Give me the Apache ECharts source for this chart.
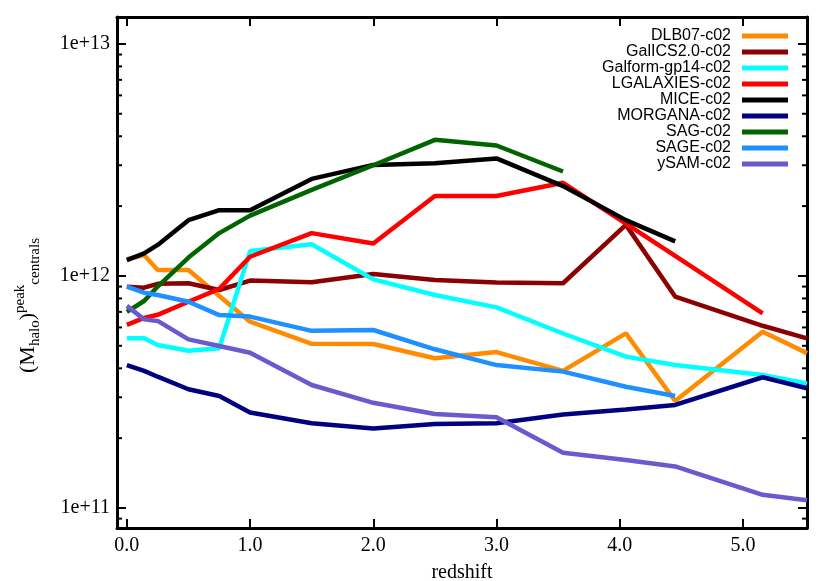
<!DOCTYPE html>
<html>
<head>
<meta charset="utf-8">
<script src="https://cdn.jsdelivr.net/npm/echarts@6/dist/echarts.min.js"></script>
<style>
  html, body { margin: 0; padding: 0; background: #fff; }
  #chart { width: 830px; height: 581px; }
</style>
</head>
<body>
<div id="chart"></div>
<script>
// redshift snapshots shared by all models
const redshift = [0, 0.14, 0.25, 0.5, 0.75, 1.0, 1.5, 2.0, 2.5, 3.0, 3.54, 4.05, 4.45, 5.16, 5.52];

const names = ["DLB07-c02", "GalICS2.0-c02", "Galform-gp14-c02", "LGALAXIES-c02", "MICE-c02",
  "MORGANA-c02", "SAG-c02", "SAGE-c02", "ySAM-c02"];
const colors = ["#ff8c00", "#8b0000", "#00ffff", "#ff0000", "#000000",
  "#000080", "#006400", "#1e90ff", "#6a5acd"];

// peak halo mass of centrals, null = no point
const dlb07 = [1.18e12, 1.23e12, 1.06e12, 1.06e12, 8.2e11, 6.35e11, 5.1e11, 5.09e11, 4.42e11, 4.7e11, 3.9e11, 5.66e11, 2.89e11, 5.75e11, 4.65e11];
const galics = [8.99e11, 8.9e11, 9.25e11, 9.3e11, 8.7e11, 9.55e11, 9.4e11, 1.02e12, 9.6e11, 9.36e11, 9.3e11, 1.66e12, 8.15e11, 6.1e11, 5.38e11];
const galform = [5.39e11, 5.39e11, 5.04e11, 4.76e11, 4.88e11, 1.28e12, 1.37e12, 9.67e11, 8.28e11, 7.32e11, 5.65e11, 4.49e11, 4.13e11, 3.74e11, 3.44e11];
const lgalaxies = [6.15e11, 6.6e11, 6.8e11, 7.74e11, 8.8e11, 1.21e12, 1.53e12, 1.38e12, 2.21e12, 2.21e12, 2.52e12, 1.68e12, 1.22e12, 6.9e11, null];
const mice = [1.17e12, 1.25e12, 1.36e12, 1.74e12, 1.92e12, 1.92e12, 2.62e12, 3.01e12, 3.06e12, 3.21e12, 2.44e12, 1.74e12, 1.41e12, null, null];
const morgana = [4.13e11, 3.9e11, 3.68e11, 3.25e11, 3.04e11, 2.58e11, 2.32e11, 2.2e11, 2.3e11, 2.32e11, 2.53e11, 2.66e11, 2.78e11, 3.66e11, 3.28e11];
const sag = [7.0e11, 7.8e11, 9.0e11, 1.2e12, 1.53e12, 1.82e12, 2.35e12, 3.0e12, 3.86e12, 3.65e12, 2.82e12, null, null, null, null];
const sage = [9.0e11, 8.47e11, 8.28e11, 7.74e11, 6.78e11, 6.68e11, 5.8e11, 5.85e11, 4.83e11, 4.13e11, 3.87e11, 3.33e11, 3.04e11, null, null];
const ysam = [7.43e11, 6.5e11, 6.4e11, 5.33e11, 4.99e11, 4.67e11, 3.39e11, 2.84e11, 2.54e11, 2.46e11, 1.73e11, 1.61e11, 1.51e11, 1.14e11, 1.08e11];

const xTicks = [0, 1, 2, 3, 4, 5];
const yTicks = [1e11, 1e12, 1e13];
const yMinorTicks = [9e10, 2e11, 3e11, 4e11, 5e11, 6e11, 7e11, 8e11, 9e11,
  2e12, 3e12, 4e12, 5e12, 6e12, 7e12, 8e12, 9e12];

const allValues = [dlb07, galics, galform, lgalaxies, mice, morgana, sag, sage, ysam];

const serif = "Liberation Serif";
const xMin = -0.08, xMax = 5.52;
const yMin = 8.2e10, yMax = 1.306e13;

let chart = echarts.init(document.getElementById("chart"));

const lineSeries = names.map((name, i) => ({
  name: name,
  type: "line",
  data: redshift.map((z, k) => [z, allValues[i][k]]).filter(p => p[1] != null),
  showSymbol: false,
  symbol: "none",
  color: colors[i],
  lineStyle: { width: 4.5, color: colors[i] },
  itemStyle: { color: colors[i] },
}));

// minor ticks on left and right axis (log spacing)
const minorSeries = {
  type: "custom",
  name: "minor",
  coordinateSystem: "cartesian2d",
  silent: true,
  clip: false,
  data: yMinorTicks.map(v => [0, v]),
  renderItem: function (params, api) {
    const cs = params.coordSys;
    const y = api.coord([0, api.value(1)])[1];
    return {
      type: "group",
      children: [
        { type: "line", shape: { x1: cs.x, y1: y, x2: cs.x + 5, y2: y }, style: { stroke: "#000", lineWidth: 2 } },
        { type: "line", shape: { x1: cs.x + cs.width, y1: y, x2: cs.x + cs.width - 5, y2: y }, style: { stroke: "#000", lineWidth: 2 } },
      ],
    };
  },
};

const frameLine = { show: true, onZero: false, lineStyle: { color: "#000", width: 3 } };
const majorTick = { show: true, inside: true, length: 9, lineStyle: { color: "#000", width: 2 } };

chart.setOption({
  animation: false,
  backgroundColor: "#fff",
  grid: { left: 117, right: 23, top: 17, bottom: 53, containLabel: false, outerBoundsMode: "none" },
  legend: {
    data: names,
    orient: "vertical",
    right: 37,
    top: 23,
    align: "right",
    icon: "rect",
    itemWidth: 46,
    itemHeight: 5,
    itemGap: 0,
    textStyle: { fontFamily: "Liberation Sans", fontSize: 16, color: "#000", lineHeight: 16, padding: [0, 6, 0, 0] },
  },
  xAxis: [
    {
      type: "value", min: xMin, max: xMax, position: "bottom",
      axisLine: frameLine,
      axisTick: Object.assign({ customValues: xTicks }, majorTick),
      axisLabel: {
        customValues: xTicks, formatter: v => v.toFixed(1),
        fontFamily: serif, fontSize: 20, color: "#000", margin: 8,
      },
      splitLine: { show: false },
      name: "redshift", nameLocation: "middle", nameGap: 35,
      nameTextStyle: { fontFamily: serif, fontSize: 20, color: "#000" },
    },
    {
      type: "value", min: xMin, max: xMax, position: "top",
      axisLine: frameLine,
      axisTick: Object.assign({ customValues: xTicks }, majorTick),
      axisLabel: { show: false },
      splitLine: { show: false },
    },
  ],
  yAxis: [
    {
      type: "log", logBase: 10, min: yMin, max: yMax, position: "left",
      axisLine: frameLine,
      axisTick: Object.assign({ customValues: yTicks }, majorTick),
      axisLabel: {
        customValues: yTicks, formatter: v => "1e+" + Math.round(Math.log10(v)),
        fontFamily: serif, fontSize: 20, color: "#000", margin: 7,
      },
      splitLine: { show: false },
      minorTick: { show: false },
      name: "{n|(M}{sub|halo}{n|)}{sup|peak}{sub|centrals}{gap| }",
      nameLocation: "middle", nameRotate: 90, nameGap: 74,
      nameTextStyle: {
        fontFamily: serif, fontSize: 22, color: "#000",
        rich: {
          n: { fontFamily: serif, fontSize: 22, lineHeight: 30, color: "#000" },
          sub: { fontFamily: serif, fontSize: 15, lineHeight: 15, verticalAlign: "bottom", color: "#000" },
          sup: { fontFamily: serif, fontSize: 15, lineHeight: 15, verticalAlign: "top", color: "#000" },
          gap: { fontSize: 15, width: 66 },
        },
      },
    },
    {
      type: "log", logBase: 10, min: yMin, max: yMax, position: "right",
      axisLine: frameLine,
      axisTick: Object.assign({ customValues: yTicks }, majorTick),
      axisLabel: { show: false },
      splitLine: { show: false },
    },
  ],
  series: lineSeries.concat([minorSeries]),
});
</script>
</body>
</html>
